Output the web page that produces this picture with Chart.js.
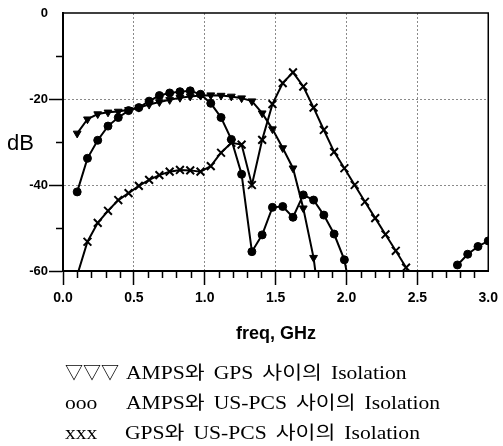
<!DOCTYPE html>
<html>
<head>
<meta charset="utf-8">
<script src="https://cdn.jsdelivr.net/npm/chart.js@4.4.1/dist/chart.umd.min.js"></script>
<style>
  html, body { margin: 0; padding: 0; background: #fff; }
  #wrap { position: relative; width: 503px; height: 446px; overflow: hidden; }
  canvas { position: absolute; left: 0; top: 0; }
  .lbl { position: absolute; color: #000; white-space: nowrap; }
  .leg { position: absolute; font-family: "Liberation Serif", "Noto Sans CJK KR", serif; font-size: 18px; line-height: 20px; color: #000; white-space: nowrap; word-spacing: 3px; transform-origin: 0 50%; }
  .sx { transform: scaleX(1.2); }
</style>
</head>
<body>
<div id="wrap">
  <canvas id="c" width="503" height="446"></canvas>
  <div class="lbl" style="left:7px; top:130px; font-family:'Liberation Sans',Arial,sans-serif; font-size:22px; line-height:26px;">dB</div>
  <div class="lbl" style="left:236px; top:323px; font-family:'Liberation Sans',Arial,sans-serif; font-weight:bold; font-size:18px; line-height:20px;">freq, GHz</div>
  <div class="leg" style="left:65px; top:363px;">▽▽▽</div>
  <div class="leg sx" style="left:126px; top:363px;">AMPS와 GPS 사이의 Isolation</div>
  <div class="leg sx" style="left:65px; top:393px;">ooo</div>
  <div class="leg sx" style="left:126px; top:393px;">AMPS와 US-PCS 사이의 Isolation</div>
  <div class="leg sx" style="left:65px; top:423px;">xxx</div>
  <div class="leg sx" style="left:125px; top:423px;">GPS와 US-PCS 사이의 Isolation</div>
</div>
<script>
// frequency points (GHz)
const freq = [0.1, 0.1725, 0.245, 0.3175, 0.39, 0.4625, 0.535, 0.6075, 0.68, 0.7525,
              0.825, 0.8975, 0.97, 1.0425, 1.115, 1.1875, 1.26, 1.3325, 1.405, 1.4775,
              1.55, 1.6225, 1.695, 1.7675, 1.84, 1.9125, 1.985, 2.0575, 2.13, 2.2025,
              2.275, 2.3475, 2.42, 2.4925, 2.565, 2.6375, 2.71, 2.7825, 2.855, 2.9275, 3.0];

// AMPS - GPS isolation (dB)
const ampsGps = [-28.0, -24.7, -23.5, -23.1, -22.9, -22.5, -22.0, -21.3, -20.7, -20.2,
                 -19.7, -19.4, -19.2, -19.1, -19.2, -19.4, -19.8, -20.5, -23.3, -27.0,
                 -31.4, -36.1, -45.4, -56.9, -75.0, null, null, null, null, null,
                 null, null, null, null, null, null, null, null, null, null, null];

// AMPS - US-PCS isolation (dB)
const ampsPcs = [-41.6, -33.8, -29.6, -26.3, -24.3, -22.7, -22.0, -20.5, -19.2, -18.6,
                 -18.3, -18.1, -18.9, -21.0, -24.3, -29.4, -37.5, -55.5, -51.6, -45.2,
                 -45.0, -47.5, -42.3, -43.5, -47.0, -51.4, -57.4, -70.0, null, null,
                 null, null, null, null, null, null, null, -58.6, -56.1, -54.3, -53.0];

// GPS - US-PCS isolation (dB)
const gpsPcs = [-61.0, -53.2, -48.8, -46.0, -43.5, -41.9, -40.2, -38.8, -37.7, -36.9,
                -36.5, -36.6, -36.9, -35.6, -32.5, -30.2, -30.6, -40.0, -29.5, -21.2,
                -16.3, -13.8, -17.1, -22.0, -27.2, -32.3, -36.1, -40.0, -43.9, -47.7,
                -51.5, -55.3, -59.2, -63.0, null, null, null, null, null, null, null];

const xTicks = [0.0, 0.5, 1.0, 1.5, 2.0, 2.5, 3.0];
const yTicks = [0, -20, -40, -60];

function pts(arr) {
  return freq.map((f, i) => ({ x: f, y: arr[i] }));
}

const framePlugin = {
  id: 'frame',
  afterDraw(chart) {
    const ctx = chart.ctx;
    const xs = chart.scales.x, ys = chart.scales.y;
    const a = chart.chartArea;
    ctx.save();
    ctx.strokeStyle = '#000';
    ctx.lineWidth = 1.5;
    ctx.beginPath();
    ctx.moveTo(a.left, a.top);
    ctx.lineTo(a.right, a.top);
    ctx.lineTo(a.right, a.bottom);
    ctx.stroke();
    ctx.beginPath();
    for (let k = 1; k < 30; k++) {
      if (k % 5 === 0) continue;
      const px = Math.round(xs.getPixelForValue(k / 10)) + 0.5;
      ctx.moveTo(px, a.bottom);
      ctx.lineTo(px, a.bottom + 7);
    }
    [-10, -30, -50].forEach(v => {
      const py = Math.round(ys.getPixelForValue(v)) + 0.5;
      ctx.moveTo(a.left - 7, py);
      ctx.lineTo(a.left, py);
    });
    ctx.stroke();
    ctx.restore();
  }
};

new Chart(document.getElementById('c'), {
  type: 'line',
  data: {
    datasets: [
      {
        label: 'AMPS와 GPS 사이의 Isolation',
        data: pts(ampsGps),
        borderColor: '#000', borderWidth: 2,
        pointStyle: 'triangle', rotation: 180,
        pointRadius: 4.5, pointBackgroundColor: '#000', pointBorderColor: '#000', pointBorderWidth: 1,
        spanGaps: false, tension: 0
      },
      {
        label: 'AMPS와 US-PCS 사이의 Isolation',
        data: pts(ampsPcs),
        borderColor: '#000', borderWidth: 2,
        pointStyle: 'circle',
        pointRadius: 4, pointBackgroundColor: '#000', pointBorderColor: '#000', pointBorderWidth: 1,
        spanGaps: false, tension: 0
      },
      {
        label: 'GPS와 US-PCS 사이의 Isolation',
        data: pts(gpsPcs),
        borderColor: '#000', borderWidth: 2,
        pointStyle: 'crossRot',
        pointRadius: 5.5, pointBorderColor: '#000', pointBorderWidth: 2,
        spanGaps: false, tension: 0
      }
    ]
  },
  options: {
    responsive: false,
    animation: false,
    devicePixelRatio: 1,
    layout: { padding: { top: 13, right: 12, left: 0, bottom: 135 } },
    plugins: { legend: { display: false }, tooltip: { enabled: false } },
    scales: {
      x: {
        type: 'linear', min: 0, max: 3,
        afterFit(s) { s.height = 40; },
        afterBuildTicks(s) { s.ticks = xTicks.map(v => ({ value: v })); },
        ticks: {
          color: '#000', padding: 5,
          font: { family: 'Liberation Sans', weight: 'bold', size: 14 },
          callback: v => Number(v).toFixed(1),
          maxRotation: 0, autoSkip: false
        },
        grid: {
          color: c => (c.tick && (c.tick.value === 0 || c.tick.value === 3)) ? 'rgba(0,0,0,0)' : '#8a8a8a',
          lineWidth: 1,
          tickColor: c => (c.tick && c.tick.value === 3) ? 'rgba(0,0,0,0)' : '#000',
          tickLength: 14, tickWidth: 1.5
        },
        border: { color: '#000', width: 2, dash: [2, 2] }
      },
      y: {
        type: 'linear', min: -60, max: 0,
        afterFit(s) { s.width = 63; },
        afterBuildTicks(s) { s.ticks = yTicks.map(v => ({ value: v })); },
        ticks: {
          color: '#000', padding: 1,
          font: { family: 'Liberation Sans', weight: 'bold', size: 13 },
          callback: v => String(v)
        },
        grid: {
          color: c => (c.tick && (c.tick.value === 0 || c.tick.value === -60)) ? 'rgba(0,0,0,0)' : '#8a8a8a',
          lineWidth: 1,
          tickColor: c => (c.tick && c.tick.value === 0) ? 'rgba(0,0,0,0)' : '#000',
          tickLength: 14, tickWidth: 1.5
        },
        border: { color: '#000', width: 2, dash: [2, 2] }
      }
    }
  },
  plugins: [framePlugin]
});
</script>
</body>
</html>
